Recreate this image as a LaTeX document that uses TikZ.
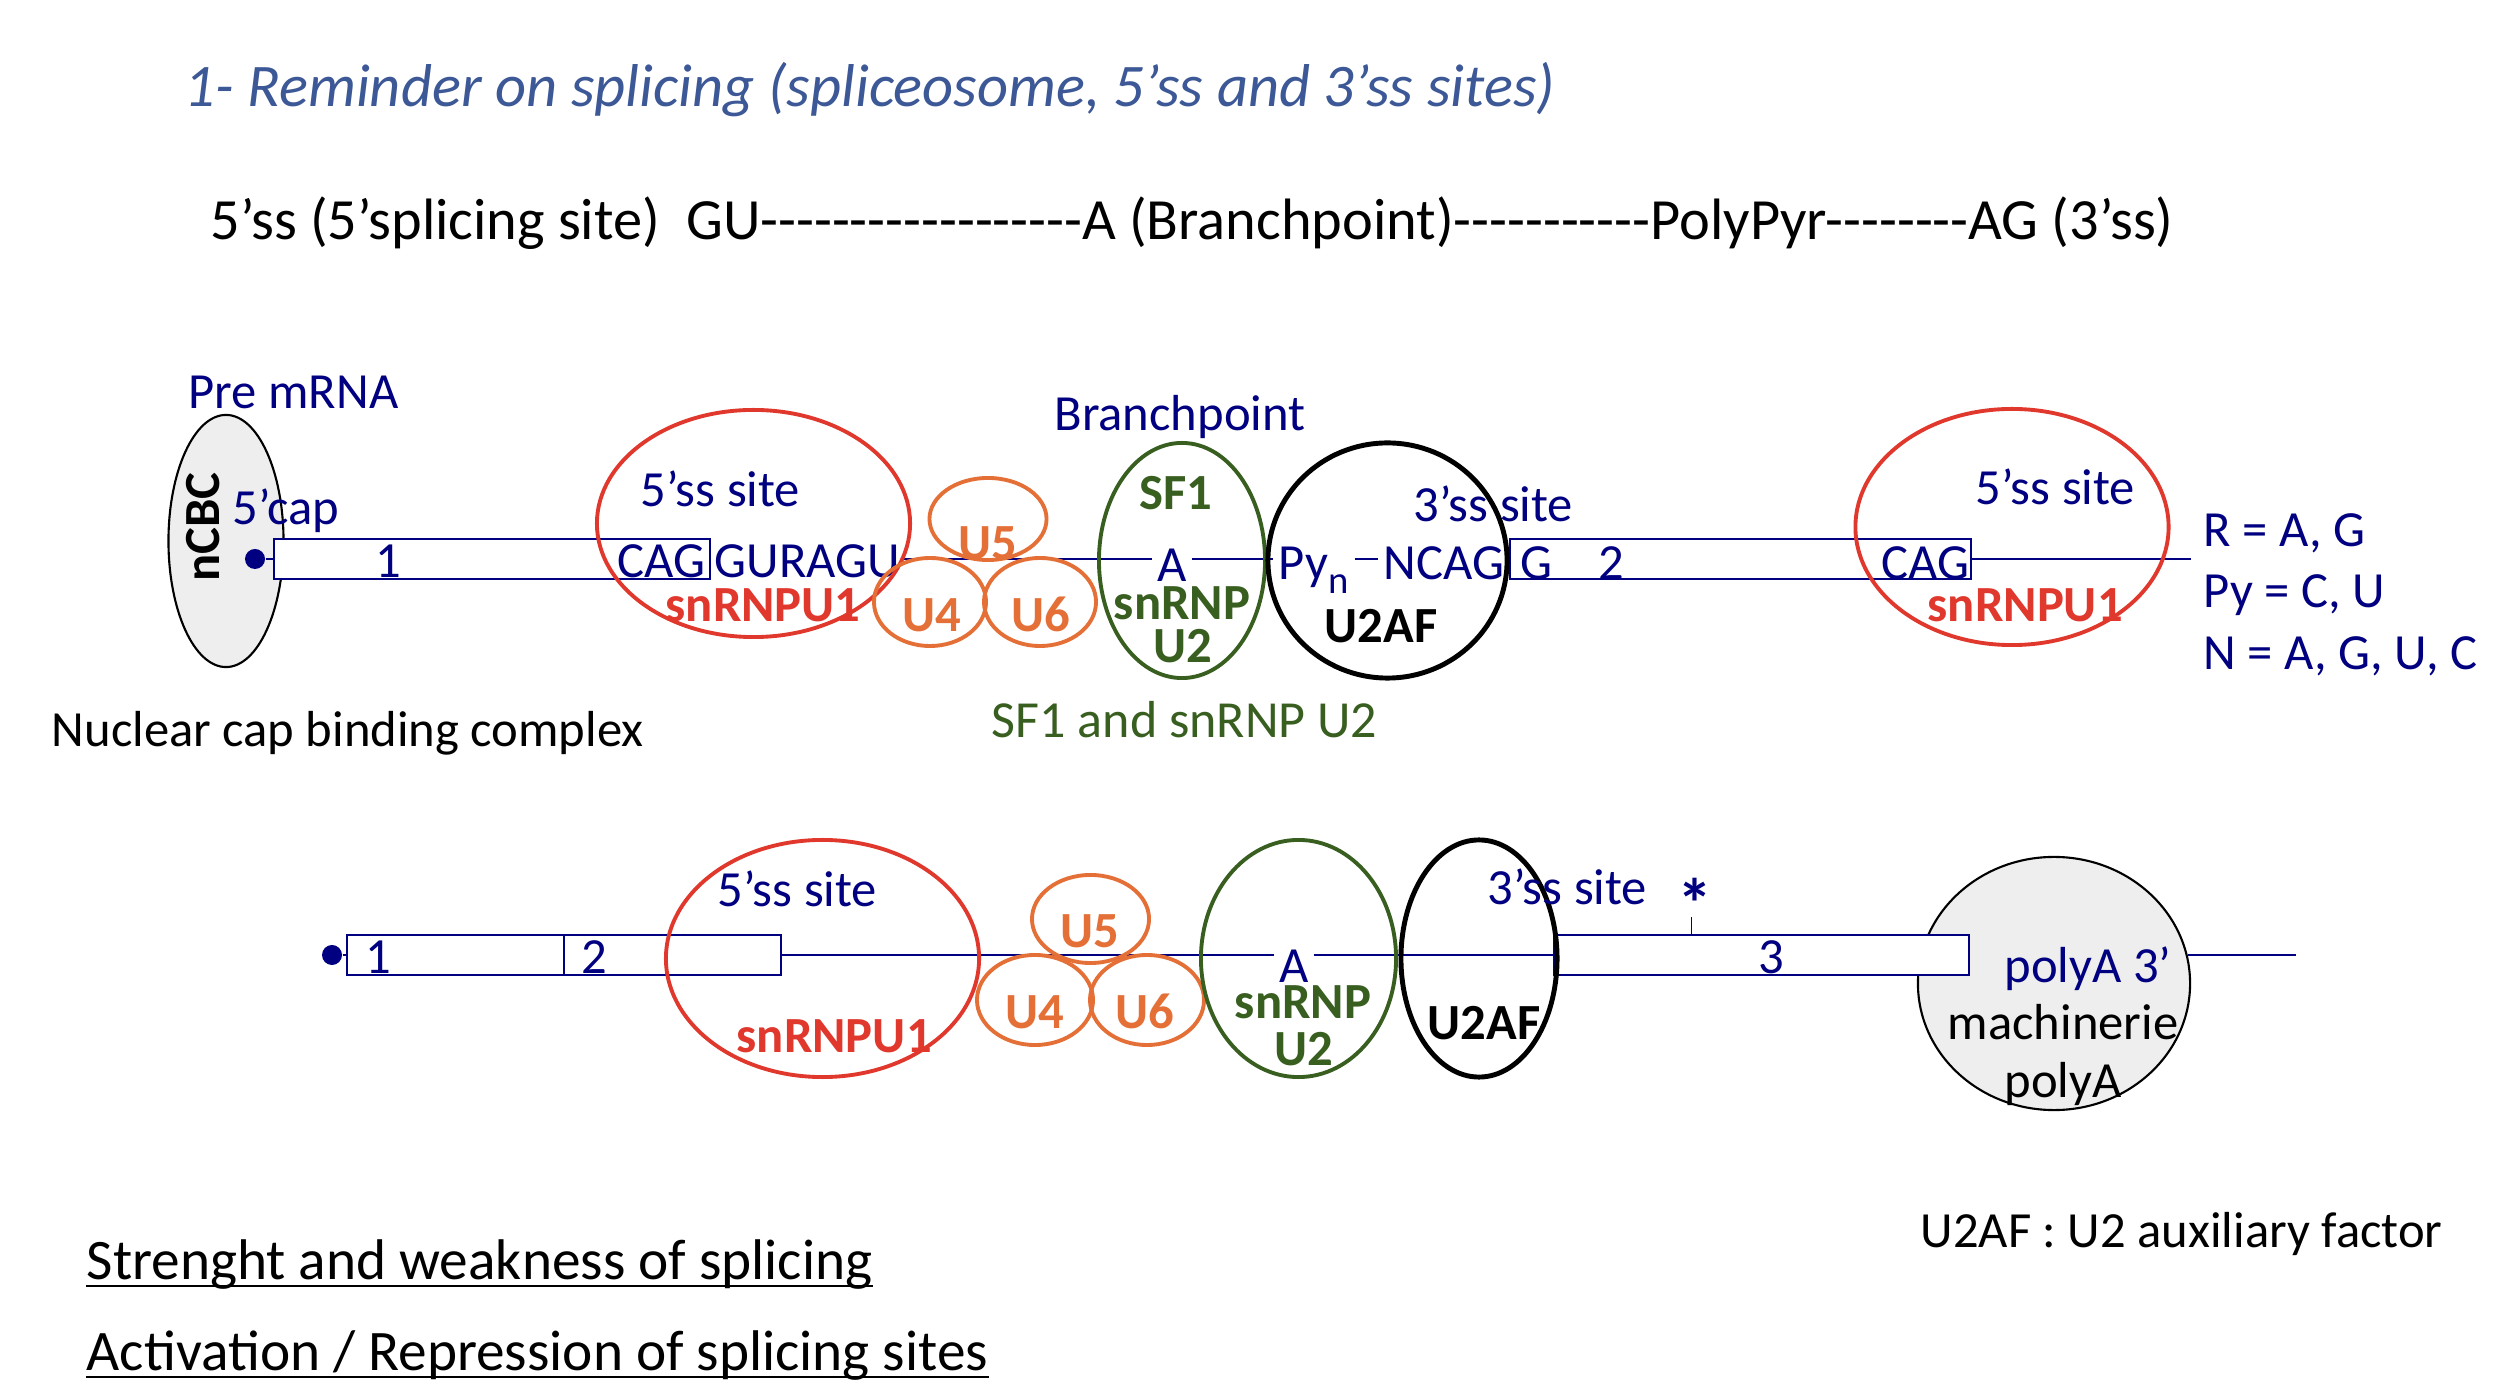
\documentclass[tikz,border=0pt]{standalone}
\usepackage{fontspec}
\setmainfont{Carlito}
\usetikzlibrary{shapes.geometric,positioning}
\definecolor{RnaBlue}{RGB}{0, 0, 128}
\definecolor{HeadBlue}{RGB}{60, 88, 150}
\definecolor{SiteRed}{RGB}{224, 56, 45}
\definecolor{RingOrange}{RGB}{228, 112, 55}
\definecolor{FactorGreen}{RGB}{56, 94, 32}
\definecolor{CapGray}{RGB}{238, 238, 238}
\newcommand{\dashrun}[1]{\foreach \k in {1,...,#1}{-\kern0pt}}

\begin{document}
\begin{tikzpicture}[x=0.01cm, y=-0.01cm,
  txt/.style={font=\fontsize{14.4}{17}\selectfont, inner sep=0pt},
  hdr/.style={font=\fontsize{16.3}{20}\selectfont, inner sep=0pt},
  seq/.style={txt, text=RnaBlue},
  tag/.style={txt, font=\fontsize{14.4}{17}\selectfont\bfseries},
  exon/.style={draw=RnaBlue, line width=0.7pt, fill=white, inner sep=0pt, minimum height=0.4cm},
  rna/.style={RnaBlue, line width=0.7pt},
  ring/.style={ellipse, inner sep=0pt, line width=1.1pt},
  blob/.style={ellipse, inner sep=0pt, fill=CapGray, draw=black, line width=0.6pt},
  bead/.style={circle, fill=RnaBlue, inner sep=0pt, minimum size=0.2cm}]
  \useasboundingbox (0,0) rectangle (2512,1392);
  \fill[white] (0,0) rectangle (2512,1392);

  % Headings
  \node[hdr, font=\fontsize{17.2}{20}\selectfont\itshape, text=HeadBlue, anchor=base west] (title) at (184,107) {1- Reminder on splicing (spliceosome, 5'ss and 3'ss sites)};
  \node[hdr, font=\fontsize{16.6}{20}\selectfont, anchor=base west] (motif) at (210,240) {5'ss (5'splicing site)\ \ GU\dashrun{18}A (Branchpoint)\dashrun{11}PolyPyr\dashrun{8}AG (3'ss)};

  % Pre mRNA with cap complex
  \node[blob, minimum width=1.15cm, minimum height=2.52cm] (ncbc) at (226,541) {};
  \node[tag, rotate=90] (ncbcname) at (203,527) {nCBC};
  \node[seq, anchor=base west] (premrna) at (188,409) {Pre mRNA};
  \node[seq, anchor=base west] (cap5) at (232,525) {5'cap};
  \node[bead] (dot1) at (255,559) {};
  \node[txt, anchor=base west] (ncbcfull) at (51,747) {Nuclear cap binding complex};

  % Exons 1 and 2
  \node[exon, minimum width=4.36cm] (ex1) at (492,559) {};
  \node[exon, minimum width=4.61cm] (ex2) at (1740.5,559) {};
  \node[seq, anchor=base] (n1) at (388,578) {1};
  \node[seq, anchor=base east] (cag1) at (706,578) {CAG};
  \node[seq, anchor=base west] (guragu) at (714,578) {GURAGU};
  \node[seq, anchor=base west] (g2) at (1520,580) {G};
  \node[seq, anchor=base] (n2) at (1611,580) {2};
  \node[seq, anchor=base east] (cag2) at (1970,580) {CAG};

  % Intron
  \node[seq, anchor=base, inner xsep=1.2pt] (brA) at (1172,582) {A};
  \node[seq, anchor=base west, inner xsep=1.5pt] (pyn) at (1273,580) {Py{\fontsize{11}{12}\selectfont\raisebox{-3.7pt}{n}}};
  \node[seq, anchor=base west, inner xsep=1.5pt] (ncag) at (1378,580) {NCAG};
  \coordinate (end1) at (2191,559);
  \draw[rna] (dot1) -- (ex1.west);
  \draw[rna] (guragu.east |- ex1) -- (brA.west |- ex1);
  \draw[rna] (brA.east |- ex1) -- (pyn.west |- ex1);
  \draw[rna] (pyn.east |- ex1) -- (ncag.west |- ex1);
  \draw[rna] (ncag.east |- ex1) -- (ex2.west);
  \draw[rna] (ex2.east) -- (end1);

  % 5'ss and snRNP U1
  \node[ring, draw=SiteRed, minimum width=3.13cm, minimum height=2.27cm] (r5a) at (753.5,523.5) {};
  \node[seq, anchor=base west] (ss5a) at (640,507) {5'ss site};
  \node[tag, text=SiteRed, anchor=base west] (u1a) at (665,622) {snRNPU1};

  % U4 U5 U6
  \node[ring, draw=RingOrange, minimum width=1.17cm, minimum height=0.82cm] (u5a) at (988,519) {};
  \node[ring, draw=RingOrange, minimum width=1.12cm, minimum height=0.88cm] (u4a) at (930,602) {};
  \node[ring, draw=RingOrange, minimum width=1.12cm, minimum height=0.88cm] (u6a) at (1040,602) {};
  \node[tag, text=RingOrange, anchor=base] (u5atxt) at (988,560) {U5};
  \node[tag, text=RingOrange, anchor=base] (u4atxt) at (932,632) {U4};
  \node[tag, text=RingOrange, anchor=base] (u6atxt) at (1041,632) {U6};

  % Branchpoint, SF1 and snRNP U2
  \node[ring, draw=FactorGreen, minimum width=1.66cm, minimum height=2.35cm] (sfa) at (1182,560.5) {};
  \node[seq, anchor=base] (bp) at (1180,431) {Branchpoint};
  \node[tag, text=FactorGreen, anchor=base] (sf1) at (1176,510) {SF1};
  \node[tag, text=FactorGreen, anchor=base] (u2a) at (1182,620) {snRNP};
  \node[tag, text=FactorGreen, anchor=base] (u2b) at (1183,663) {U2};
  \node[txt, font=\fontsize{14.8}{17}\selectfont, text=FactorGreen, anchor=base] (sfu2) at (1184.5,738) {SF1 and snRNP U2};

  % 3'ss and U2AF
  \node[ring, draw=black, line width=1.4pt, minimum width=2.39cm, minimum height=2.35cm] (afa) at (1387.5,560.5) {};
  \node[seq, anchor=base west] (ss3a) at (1413,522) {3'ss site};
  \node[tag, anchor=base] (u2afa) at (1381,643) {U2AF};

  % next 5'ss
  \node[ring, draw=SiteRed, minimum width=3.13cm, minimum height=2.36cm] (r5b) at (2012,527) {};
  \node[seq, anchor=base west] (ss5b) at (1975,505) {5'ss site};
  \node[tag, text=SiteRed, anchor=base west] (u1b) at (1927,622) {snRNPU1};

  % Code
  \node[seq, anchor=base west] (codeR) at (2203,547) {R = A, G};
  \node[seq, anchor=base west] (codePy) at (2203,608) {Py = C, U};
  \node[seq, anchor=base west] (codeN) at (2203,670) {N = A, G, U, C};

  % Second pre mRNA
  \node[bead] (dot2) at (332,955) {};
  \node[exon, minimum width=2.17cm] (ex21) at (455.5,955) {};
  \node[exon, minimum width=2.17cm] (ex22) at (672.5,955) {};
  \node[blob, minimum width=2.72cm, minimum height=2.53cm] (polya) at (2054,983.5) {};
  \node[exon, minimum width=4.15cm] (ex3) at (1761.5,955) {};
  \node[seq, anchor=base] (m1) at (378,974) {1};
  \node[seq, anchor=base] (m2) at (594,974) {2};
  \node[seq, anchor=base] (m3) at (1771,974) {3};
  \node[seq, anchor=base, inner xsep=1.2pt] (brB) at (1294,983) {A};
  \node[seq, font=\fontsize{20}{20}\selectfont\bfseries, anchor=base] (star) at (1695,929) {*};
  \coordinate (end2) at (2296,955);
  \draw[rna] (dot2) -- (ex21.west);
  \draw[rna] (ex22.east) -- (brB.west |- ex22);
  \draw[rna] (brB.east |- ex22) -- (ex3.west);
  \draw[rna] (polya.12 |- ex3) -- (end2);
  \draw[rna, line width=0.4pt] ([xshift=-1pt,yshift=3.5pt]star.south) -- ([xshift=-1pt]star.south |- ex3.north);

  % Spliceosome on the second pre mRNA
  \node[ring, draw=SiteRed, minimum width=3.13cm, minimum height=2.37cm] (r5c) at (822.5,958.5) {};
  \node[seq, anchor=base west] (ss5c) at (717,907) {5'ss site};
  \node[tag, text=SiteRed, anchor=base west] (u1c) at (736,1053) {snRNPU1};
  \node[ring, draw=RingOrange, minimum width=1.17cm, minimum height=0.88cm] (u5b) at (1090.5,919) {};
  \node[ring, draw=RingOrange, minimum width=1.16cm, minimum height=0.9cm] (u4b) at (1035,1000) {};
  \node[ring, draw=RingOrange, minimum width=1.14cm, minimum height=0.9cm] (u6b) at (1147,1000) {};
  \node[tag, text=RingOrange, anchor=base] (u5btxt) at (1090,948) {U5};
  \node[tag, text=RingOrange, anchor=base] (u4btxt) at (1035,1028) {U4};
  \node[tag, text=RingOrange, anchor=base] (u6btxt) at (1145,1028) {U6};
  \node[ring, draw=FactorGreen, minimum width=1.95cm, minimum height=2.37cm] (sfb) at (1298.5,958.5) {};
  \node[tag, text=FactorGreen, anchor=base] (u2c) at (1303,1018) {snRNP};
  \node[tag, text=FactorGreen, anchor=base] (u2d) at (1304,1065) {U2};
  \node[ring, draw=black, line width=1.4pt, minimum width=1.56cm, minimum height=2.37cm] (afb) at (1479,958.5) {};
  \node[tag, anchor=base] (u2afb) at (1484,1040) {U2AF};
  \node[seq, anchor=base west] (ss3b) at (1487,905) {3'ss site};

  % polyA machinery
  \node[seq, anchor=base] (polyaname) at (2088,982) {polyA 3'};
  \node[txt, anchor=base] (machine) at (2063,1040) {machinerie};
  \node[txt, anchor=base] (polyatxt) at (2063,1097) {polyA};

  % Notes
  \node[txt, anchor=base west] (u2afnote) at (1920,1247) {U2AF : U2 auxiliary factor};
  \node[hdr, anchor=base west] (strength) at (86,1279) {Strenght and weakness of splicing};
  \node[hdr, anchor=base west] (activ) at (86,1370) {Activation / Repression of splicing sites};
  \draw[line width=0.7pt] ([yshift=-2pt]strength.base west) -- ([yshift=-2pt]strength.base east);
  \draw[line width=0.7pt] ([yshift=-2pt]activ.base west) -- ([yshift=-2pt]activ.base east);
\end{tikzpicture}
\end{document}
